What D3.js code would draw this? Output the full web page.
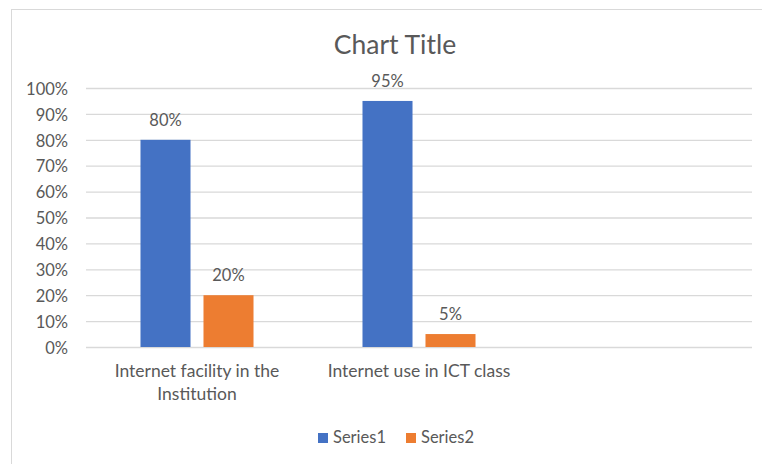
<!DOCTYPE html>
<html>
<head>
<meta charset="utf-8">
<script src="https://cdn.jsdelivr.net/npm/d3@7"></script>
<style>
  body { margin: 0; background: #fff; }
  text { font-family: Lato, "Open Sans", sans-serif; fill: #595959; }
</style>
</head>
<body>
<div class="chart"></div>
<script>
// data
var categories = ["Internet facility in the Institution", "Internet use in ICT class", ""];
var seriesNames = ["Series1", "Series2"];
var series1 = [0.80, 0.95, null];
var series2 = [0.20, 0.05, null];
var yTicks = [0, 0.1, 0.2, 0.3, 0.4, 0.5, 0.6, 0.7, 0.8, 0.9, 1.0];
var colors = ["#4472C4", "#ED7D31"];

var W = 762, H = 464;
var margin = {top: 88, right: 10, bottom: 117, left: 86},
    width = 752 - margin.left,
    height = 347 - margin.top;

var svg = d3.select(".chart")
    .append("svg")
    .attr("width", W)
    .attr("height", H);

// chart frame
svg.append("rect")
    .attr("x", 11.5).attr("y", 9.5)
    .attr("width", W).attr("height", H)
    .style("fill", "none")
    .style("stroke", "#d9d9d9");

svg.append("text")
    .attr("x", 395)
    .attr("y", 54)
    .attr("text-anchor", "middle")
    .attr("font-size", "26.5px")
    .text("Chart Title");

var g = svg.append("g")
    .attr("transform", "translate(" + margin.left + "," + margin.top + ")");

var y = d3.scaleLinear().domain([0, 1]).range([height, 0]);

var x0 = d3.scaleBand().domain(categories).range([0, width]).padding(0);
var x1 = d3.scaleBand().domain(seriesNames)
    .range([0, x0.bandwidth()])
    .paddingInner(0.206)
    .paddingOuter(0.865);

// gridlines + y labels
var yAxis = g.append("g")
    .call(d3.axisLeft(y).tickValues(yTicks).tickFormat(d3.format(".0%")).tickSize(-width).tickPadding(18));
yAxis.select(".domain").remove();
yAxis.selectAll("line").style("stroke", "#d9d9d9").style("stroke-width", 1.3);
yAxis.selectAll("text")
    .attr("font-size", "16.5px")
    .attr("dy", "0.38em")
    .style("fill", "#595959");

// bars
var rows = categories.map(function(c, i) {
    return {cat: c, vals: [series1[i], series2[i]]};
});

var groups = g.selectAll(".grp")
    .data(rows)
    .enter()
    .append("g")
    .attr("transform", function(d) { return "translate(" + x0(d.cat) + ",0)"; });

var cells = groups.selectAll("g")
    .data(function(d) {
        return d.vals.map(function(v, j) { return {name: seriesNames[j], v: v, j: j}; })
            .filter(function(e) { return e.v != null; });
    })
    .enter()
    .append("g");

cells.append("rect")
    .attr("x", function(d) { return x1(d.name); })
    .attr("y", function(d) { return y(d.v); })
    .attr("width", x1.bandwidth())
    .attr("height", function(d) { return height - y(d.v); })
    .style("fill", function(d) { return colors[d.j]; });

cells.append("text")
    .attr("x", function(d) { return x1(d.name) + x1.bandwidth() / 2; })
    .attr("y", function(d) { return y(d.v) - 14; })
    .attr("text-anchor", "middle")
    .attr("font-size", "16.5px")
    .text(function(d) { return d3.format(".0%")(d.v); });

// category axis, labels wrapped into two lines like the picture
var xAxis = g.append("g")
    .attr("transform", "translate(0," + height + ")")
    .call(d3.axisBottom(x0).tickSize(0).tickPadding(0));
xAxis.select(".domain").remove();
xAxis.selectAll("text").each(function(d) {
    var text = d3.select(this);
    var lines = d === categories[0] ? ["Internet facility in the", "Institution"] : [d];
    text.text(null)
        .attr("font-size", "17.5px")
        .attr("y", 0)
        .attr("dy", null)
        .style("fill", "#595959");
    lines.forEach(function(line, i) {
        text.append("tspan")
            .attr("x", 0)
            .attr("y", 30 + i * 23)
            .text(line);
    });
});

// legend
var legend = svg.append("g");
var legX = [318, 406];
seriesNames.forEach(function(s, i) {
    legend.append("rect")
        .attr("x", legX[i]).attr("y", 433)
        .attr("width", 10).attr("height", 10)
        .style("fill", colors[i]);
    legend.append("text")
        .attr("x", legX[i] + 15)
        .attr("y", 443)
        .attr("font-size", "16.5px")
        .text(s);
});
</script>
</body>
</html>
